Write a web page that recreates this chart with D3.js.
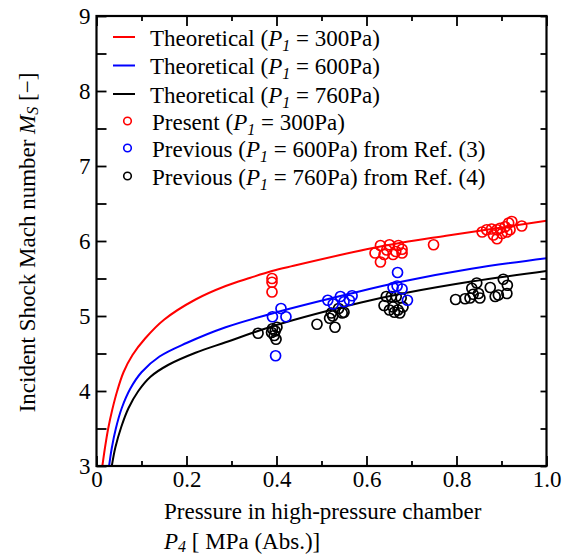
<!DOCTYPE html>
<html><head><meta charset="utf-8">
<script src="https://cdn.jsdelivr.net/npm/d3@7"></script>
<style>
body{margin:0;background:#fff;}
text{font-family:"Liberation Serif","Times New Roman",serif;fill:#000;}
</style></head>
<body>
<svg id="c" width="568" height="556"></svg>
<script>
// ---------- data ----------
const xTicks = [0, 0.2, 0.4, 0.6, 0.8, 1.0];
const xTickLabels = ["0", "0.2", "0.4", "0.6", "0.8", "1.0"];
const xMinor = [0.1, 0.3, 0.5, 0.7, 0.9];
const yTicks = [3, 4, 5, 6, 7, 8, 9];
const yMinor = [3.5, 4.5, 5.5, 6.5, 7.5, 8.5];

// theoretical curves
const theo300 = [[0.013,3],[0.019,3.25],[0.026,3.5],[0.035,3.75],[0.046,4.0],[0.06,4.25],[0.08,4.48],[0.108,4.70],[0.15,4.95],[0.22,5.22],[0.287,5.40],[0.342,5.51],[0.39,5.60],[0.438,5.67],[0.6,5.89],[0.68,5.98],[0.777,6.07],[1.0,6.27]];
const theo600 = [[0.028,3],[0.034,3.24],[0.043,3.5],[0.056,3.77],[0.075,4.03],[0.10,4.25],[0.14,4.46],[0.20,4.64],[0.287,4.85],[0.4,5.05],[0.565,5.30],[0.68,5.46],[0.833,5.63],[1.0,5.77]];
const theo760 = [[0.034,3],[0.042,3.25],[0.055,3.52],[0.071,3.77],[0.093,4.0],[0.12,4.19],[0.16,4.35],[0.22,4.51],[0.287,4.65],[0.4,4.88],[0.588,5.18],[0.68,5.30],[0.833,5.46],[1.0,5.60]];

// measured points
const present300 = [[0.390,5.50],[0.390,5.45],[0.390,5.32],
  [0.619,5.84],[0.631,5.94],[0.631,5.72],[0.639,5.82],[0.651,5.95],[0.659,5.82],[0.671,5.94],[0.679,5.89],[0.679,5.84],[0.645,5.88],[0.665,5.86],[0.749,5.95],
  [0.857,6.12],[0.867,6.15],[0.878,6.16],[0.890,6.15],[0.897,6.17],[0.908,6.19],[0.916,6.24],[0.923,6.26],[0.945,6.20],[0.912,6.12],[0.890,6.03],[0.882,6.08],[0.901,6.10],[0.919,6.15]];
const previous600 = [[0.391,4.99],[0.410,5.10],[0.421,4.99],[0.398,4.47],
  [0.514,5.21],[0.526,5.16],[0.542,5.26],[0.550,5.19],[0.562,5.21],[0.568,5.27],
  [0.669,5.58],[0.659,5.38],[0.679,5.36],[0.691,5.21],[0.668,5.40]];
const previous760 = [[0.359,4.77],[0.389,4.78],[0.391,4.83],[0.395,4.74],[0.399,4.69],[0.401,4.85],[0.397,4.80],
  [0.490,4.89],[0.518,4.97],[0.522,5.04],[0.530,4.85],[0.538,5.10],[0.546,5.04],[0.550,5.05],[0.525,5.00],
  [0.639,5.14],[0.644,5.26],[0.655,5.26],[0.666,5.26],[0.677,5.24],[0.659,5.12],[0.670,5.08],[0.681,5.12],[0.674,5.04],[0.651,5.08],[0.662,5.05],
  [0.798,5.22],[0.819,5.23],[0.830,5.24],[0.837,5.29],[0.845,5.44],[0.834,5.37],[0.852,5.24],[0.849,5.30],[0.875,5.38],[0.886,5.26],[0.904,5.49],[0.913,5.41],[0.912,5.30],[0.893,5.28]];

const legendLabels = [
  ["Theoretical (", "P", "1", " = 300Pa)"],
  ["Theoretical (", "P", "1", " = 600Pa)"],
  ["Theoretical (", "P", "1", " = 760Pa)"],
  ["Present (", "P", "1", " = 300Pa)"],
  ["Previous (", "P", "1", " = 600Pa) from Ref. (3)"],
  ["Previous (", "P", "1", " = 760Pa) from Ref. (4)"]
];
const colors = ["#ff0000", "#0000ff", "#000000"];

// ---------- chart ----------
const svg = d3.select("#c");
const x = d3.scaleLinear().domain([0, 1]).range([96.5, 546.5]);
const y = d3.scaleLinear().domain([3, 9]).range([466, 16]);
const FS = 23;

svg.append("defs").append("clipPath").attr("id","clip")
  .append("rect").attr("x",x(0)).attr("y",y(9)).attr("width",x(1)-x(0)).attr("height",y(3)-y(9));

// curves
const line = d3.line().x(d=>x(d[0])).y(d=>y(d[1])).curve(d3.curveCatmullRom.alpha(0.5));
const plot = svg.append("g").attr("clip-path","url(#clip)");
[theo300, theo600, theo760].forEach((s,i)=>{
  plot.append("path").attr("d", line(s)).attr("fill","none")
    .attr("stroke", colors[i]).attr("stroke-width", 2);
});

// points
[[previous760, colors[2]], [previous600, colors[1]], [present300, colors[0]]].forEach(([s,c])=>{
  plot.selectAll(null).data(s).enter().append("circle")
    .attr("cx", d=>x(d[0])).attr("cy", d=>y(d[1])).attr("r", 5)
    .attr("fill","none").attr("stroke", c).attr("stroke-width", 1.7);
});

// axes
function styleAxis(g){
  g.select(".domain").remove();
  g.selectAll(".tick line").attr("stroke","#000").attr("stroke-width",1.8);
  g.selectAll("text").style("font-family",'"Liberation Serif","Times New Roman",serif').style("font-size",FS+"px").attr("fill","#000");
}
const gBottom = svg.append("g").attr("transform",`translate(0,${y(3)})`)
  .call(d3.axisBottom(x).tickValues(xTicks).tickFormat((d,i)=>xTickLabels[i]).tickSizeInner(-10).tickSizeOuter(0).tickPadding(5));
styleAxis(gBottom);
const gBottomMin = svg.append("g").attr("transform",`translate(0,${y(3)})`)
  .call(d3.axisBottom(x).tickValues(xMinor).tickFormat("").tickSizeInner(-5).tickSizeOuter(0));
styleAxis(gBottomMin);
const gTop = svg.append("g").attr("transform",`translate(0,${y(9)})`)
  .call(d3.axisTop(x).tickValues(xTicks).tickFormat("").tickSizeInner(-10).tickSizeOuter(0));
styleAxis(gTop);
const gTopMin = svg.append("g").attr("transform",`translate(0,${y(9)})`)
  .call(d3.axisTop(x).tickValues(xMinor).tickFormat("").tickSizeInner(-5).tickSizeOuter(0));
styleAxis(gTopMin);
const gLeft = svg.append("g").attr("transform",`translate(${x(0)},0)`)
  .call(d3.axisLeft(y).tickValues(yTicks).tickFormat(d3.format("d")).tickSizeInner(-10).tickSizeOuter(0).tickPadding(6));
styleAxis(gLeft);
const gLeftMin = svg.append("g").attr("transform",`translate(${x(0)},0)`)
  .call(d3.axisLeft(y).tickValues(yMinor).tickFormat("").tickSizeInner(-10).tickSizeOuter(0));
styleAxis(gLeftMin);
const gRight = svg.append("g").attr("transform",`translate(${x(1)},0)`)
  .call(d3.axisRight(y).tickValues(yTicks.concat(yMinor)).tickFormat("").tickSizeInner(-6).tickSizeOuter(0));
styleAxis(gRight);

// frame
svg.append("rect").attr("x",x(0)).attr("y",y(9)).attr("width",x(1)-x(0)).attr("height",y(3)-y(9))
  .attr("fill","none").attr("stroke","#000").attr("stroke-width",2.2);

// legend
const rowY = [37, 65.5, 94, 121, 148, 176];
const leg = svg.append("g");
legendLabels.forEach((lab,i)=>{
  const cy = rowY[i];
  if (i < 3) {
    leg.append("line").attr("x1",113).attr("x2",135).attr("y1",cy).attr("y2",cy)
      .attr("stroke",colors[i]).attr("stroke-width",2);
  } else {
    leg.append("circle").attr("cx",127.5).attr("cy",cy).attr("r",3.8)
      .attr("fill","none").attr("stroke",colors[i-3]).attr("stroke-width",1.6);
  }
  const t = leg.append("text").attr("x", i<3 ? 150 : 152).attr("y", cy+8.5).style("font-size",FS+"px");
  t.append("tspan").text(lab[0]);
  t.append("tspan").style("font-style","italic").text(lab[1]);
  t.append("tspan").style("font-style","italic").style("font-size","16px").attr("dy",5).text(lab[2]);
  t.append("tspan").attr("dy",-5).text(lab[3]);
});

// x-axis title
svg.append("text").attr("x",164).attr("y",519).style("font-size",FS+"px")
  .text("Pressure in high-pressure chamber");
const xt2 = svg.append("text").attr("x",164).attr("y",549).style("font-size",FS+"px");
xt2.append("tspan").style("font-style","italic").text("P");
xt2.append("tspan").style("font-style","italic").style("font-size","16px").attr("dy",3).text("4");
xt2.append("tspan").attr("dy",-3).text(" [ MPa (Abs.)]");

// y-axis title
const yt = svg.append("text").attr("transform","translate(35,242.5) rotate(-90)")
  .attr("text-anchor","middle").style("font-size",FS+"px");
yt.append("tspan").text("Incident Shock Mach number ");
yt.append("tspan").style("font-style","italic").text("M");
yt.append("tspan").style("font-style","italic").style("font-size","16px").attr("dy",3).text("S");
yt.append("tspan").attr("dy",-3).text(" [\u2212]");
</script>
</body></html>
